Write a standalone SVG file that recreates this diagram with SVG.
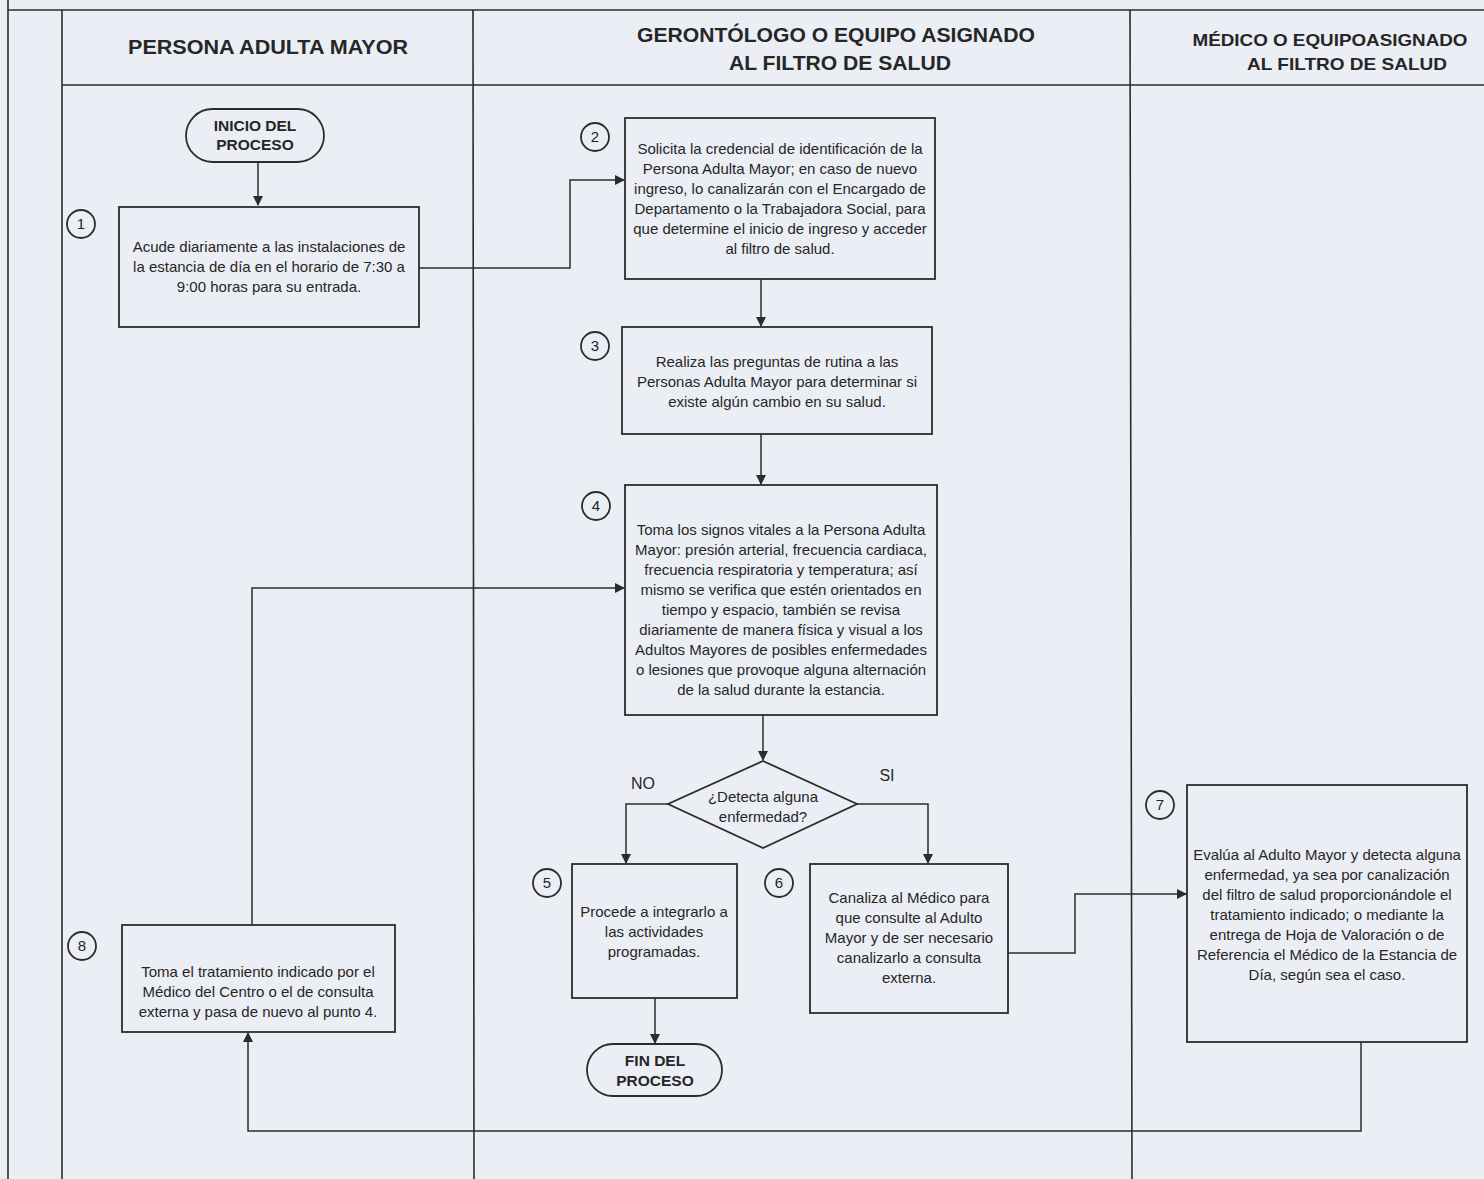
<svg xmlns="http://www.w3.org/2000/svg" width="1484" height="1179" viewBox="0 0 1484 1179">
<defs>
<style>
.bg{fill:#eceef5}
.ln{stroke:#2c2c2c;stroke-width:1.6;fill:none}
.box{fill:none;stroke:#2c2c2c;stroke-width:1.8}
.c{fill:none;stroke:#2c2c2c;stroke-width:1.5}
.t{font-family:"Liberation Sans",Arial,sans-serif;font-size:15px;fill:#262626;text-anchor:middle}
.b{font-weight:bold;font-size:15.5px}
.h{font-family:"Liberation Sans",Arial,sans-serif;font-weight:bold;fill:#262626;text-anchor:middle}
.n{font-family:"Liberation Sans",Arial,sans-serif;font-size:15px;fill:#262626;text-anchor:middle}
.lb{font-family:"Liberation Sans",Arial,sans-serif;font-size:16px;fill:#262626;text-anchor:middle}
</style>
<marker id="ah" markerWidth="10" markerHeight="10" refX="9" refY="5" orient="auto" markerUnits="userSpaceOnUse">
<path d="M0,0 L10,5 L0,10 z" fill="#2c2c2c"/>
</marker>
</defs>
<rect class="bg" x="0" y="0" width="1484" height="1179"/>
<g id="lanes">
<line class="ln" x1="8" y1="0" x2="8" y2="1179"/>
<line class="ln" x1="8" y1="10" x2="1484" y2="10"/>
<line class="ln" x1="62" y1="10" x2="62" y2="1179"/>
<line class="ln" x1="62" y1="85" x2="1484" y2="85"/>
<line class="ln" x1="473" y1="10" x2="474" y2="1179"/>
<line class="ln" x1="1130" y1="10" x2="1132" y2="1179"/>
<text class="h" x="268" y="54" font-size="20" textLength="280" lengthAdjust="spacingAndGlyphs">PERSONA ADULTA MAYOR</text>
<text class="h" x="836" y="42" font-size="20" textLength="398" lengthAdjust="spacingAndGlyphs">GERONTÓLOGO O EQUIPO ASIGNADO</text>
<text class="h" x="840" y="70" font-size="20" textLength="222" lengthAdjust="spacingAndGlyphs">AL FILTRO DE SALUD</text>
<text class="h" x="1330" y="46" font-size="17" textLength="275" lengthAdjust="spacingAndGlyphs">MÉDICO O EQUIPOASIGNADO</text>
<text class="h" x="1347" y="70" font-size="17" textLength="200" lengthAdjust="spacingAndGlyphs">AL FILTRO DE SALUD</text>
</g>
<g id="connectors">
<path class="c" d="M258,162 L258,205" marker-end="url(#ah)"/>
<path class="c" d="M419,268 L570,268 L570,180 L624,180" marker-end="url(#ah)"/>
<path class="c" d="M761,279 L761,326" marker-end="url(#ah)"/>
<path class="c" d="M761,434 L761,484" marker-end="url(#ah)"/>
<path class="c" d="M763,715 L763,760" marker-end="url(#ah)"/>
<path class="c" d="M668,804 L626,804 L626,863" marker-end="url(#ah)"/>
<path class="c" d="M857,804 L928,804 L928,863" marker-end="url(#ah)"/>
<path class="c" d="M655,998 L655,1043" marker-end="url(#ah)"/>
<path class="c" d="M1008,953 L1075,953 L1075,894 L1186,894" marker-end="url(#ah)"/>
<path class="c" d="M1361,1042 L1361,1131 L248,1131 L248,1033" marker-end="url(#ah)"/>
<path class="c" d="M252,925 L252,588 L624,588" marker-end="url(#ah)"/>
<text class="lb" x="643" y="789">NO</text>
<text class="lb" x="887" y="781">SI</text>
</g>
<g id="start">
<rect class="box" x="186" y="109" width="138" height="53" rx="26.5"/>
<text class="t b" x="255" y="131">INICIO DEL</text>
<text class="t b" x="255" y="150">PROCESO</text>
</g>
<g id="step1">
<circle class="box" cx="81" cy="224" r="14"/>
<text class="n" x="81" y="229">1</text>
<rect class="box" x="119" y="207" width="300" height="120"/>
<text class="t" x="269" y="252">Acude diariamente a las instalaciones de</text>
<text class="t" x="269" y="272">la estancia de día en el horario de 7:30 a</text>
<text class="t" x="269" y="292">9:00 horas para su entrada.</text>
</g>
<g id="step2">
<circle class="box" cx="595" cy="137" r="14"/>
<text class="n" x="595" y="142">2</text>
<rect class="box" x="625" y="118" width="310" height="161"/>
<text class="t" x="780" y="154">Solicita la credencial de identificación de la</text>
<text class="t" x="780" y="174">Persona Adulta Mayor; en caso de nuevo</text>
<text class="t" x="780" y="194">ingreso, lo canalizarán con el Encargado de</text>
<text class="t" x="780" y="214">Departamento o la Trabajadora Social, para</text>
<text class="t" x="780" y="234">que determine el inicio de ingreso y acceder</text>
<text class="t" x="780" y="254">al filtro de salud.</text>
</g>
<g id="step3">
<circle class="box" cx="595" cy="346" r="14"/>
<text class="n" x="595" y="351">3</text>
<rect class="box" x="622" y="327" width="310" height="107"/>
<text class="t" x="777" y="367">Realiza las preguntas de rutina a las</text>
<text class="t" x="777" y="387">Personas Adulta Mayor para determinar si</text>
<text class="t" x="777" y="407">existe algún cambio en su salud.</text>
</g>
<g id="step4">
<circle class="box" cx="596" cy="506" r="14"/>
<text class="n" x="596" y="511">4</text>
<rect class="box" x="625" y="485" width="312" height="230"/>
<text class="t" x="781" y="535">Toma los signos vitales a la Persona Adulta</text>
<text class="t" x="781" y="555">Mayor: presión arterial, frecuencia cardiaca,</text>
<text class="t" x="781" y="575">frecuencia respiratoria y temperatura; así</text>
<text class="t" x="781" y="595">mismo se verifica que estén orientados en</text>
<text class="t" x="781" y="615">tiempo y espacio, también se revisa</text>
<text class="t" x="781" y="635">diariamente de manera física y visual a los</text>
<text class="t" x="781" y="655">Adultos Mayores de posibles enfermedades</text>
<text class="t" x="781" y="675">o lesiones que provoque alguna alternación</text>
<text class="t" x="781" y="695">de la salud durante la estancia.</text>
</g>
<g id="decision">
<polygon class="box" points="763,761 857,804 763,848 668,804"/>
<text class="t" x="763" y="802">¿Detecta alguna</text>
<text class="t" x="763" y="822">enfermedad?</text>
</g>
<g id="step5">
<circle class="box" cx="547" cy="883" r="14"/>
<text class="n" x="547" y="888">5</text>
<rect class="box" x="572" y="864" width="165" height="134"/>
<text class="t" x="654" y="917">Procede a integrarlo a</text>
<text class="t" x="654" y="937">las actividades</text>
<text class="t" x="654" y="957">programadas.</text>
</g>
<g id="end">
<rect class="box" x="587" y="1044" width="135" height="52" rx="26"/>
<text class="t b" x="655" y="1066">FIN DEL</text>
<text class="t b" x="655" y="1086">PROCESO</text>
</g>
<g id="step6">
<circle class="box" cx="779" cy="883" r="14"/>
<text class="n" x="779" y="888">6</text>
<rect class="box" x="810" y="864" width="198" height="149"/>
<text class="t" x="909" y="903">Canaliza al Médico para</text>
<text class="t" x="909" y="923">que consulte al Adulto</text>
<text class="t" x="909" y="943">Mayor y de ser necesario</text>
<text class="t" x="909" y="963">canalizarlo a consulta</text>
<text class="t" x="909" y="983">externa.</text>
</g>
<g id="step7">
<circle class="box" cx="1160" cy="805" r="14"/>
<text class="n" x="1160" y="810">7</text>
<rect class="box" x="1187" y="785" width="280" height="257"/>
<text class="t" x="1327" y="860">Evalúa al Adulto Mayor y detecta alguna</text>
<text class="t" x="1327" y="880">enfermedad, ya sea por canalización</text>
<text class="t" x="1327" y="900">del filtro de salud proporcionándole el</text>
<text class="t" x="1327" y="920">tratamiento indicado; o mediante la</text>
<text class="t" x="1327" y="940">entrega de Hoja de Valoración o de</text>
<text class="t" x="1327" y="960">Referencia el Médico de la Estancia de</text>
<text class="t" x="1327" y="980">Día, según sea el caso.</text>
</g>
<g id="step8">
<circle class="box" cx="82" cy="946" r="14"/>
<text class="n" x="82" y="951">8</text>
<rect class="box" x="122" y="925" width="273" height="107"/>
<text class="t" x="258" y="977">Toma el tratamiento indicado por el</text>
<text class="t" x="258" y="997">Médico del Centro o el de consulta</text>
<text class="t" x="258" y="1017">externa y pasa de nuevo al punto 4.</text>
</g>
</svg>
